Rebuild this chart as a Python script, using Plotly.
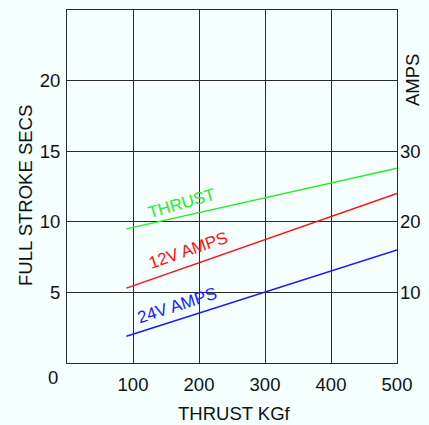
import plotly.graph_objects as go

thrust_x = [90, 500]
thrust_secs = [9.5, 13.8]
amps12_x = [90, 500]
amps12 = [10.6, 24.0]
amps24_x = [90, 500]
amps24 = [3.8, 16.0]

x_ticks = [100, 200, 300, 400, 500]
y_ticks = [5, 10, 15, 20]
y2_ticks = [10, 20, 30]

bg = "#f5fffe"
grid = "#2a2a2a"
font = "Liberation Sans, Arial, sans-serif"
fs = 18.5

L, R, T, B = 67, 397, 10, 363

fig = go.Figure()
fig.add_trace(go.Scatter(x=thrust_x, y=thrust_secs, mode="lines",
                         line=dict(color="#22ee22", width=1.5), yaxis="y"))
fig.add_trace(go.Scatter(x=amps12_x, y=amps12, mode="lines",
                         line=dict(color="#ff1010", width=1.5), yaxis="y2"))
fig.add_trace(go.Scatter(x=amps24_x, y=amps24, mode="lines",
                         line=dict(color="#1a1aff", width=1.5), yaxis="y2"))

fig.update_layout(
    width=429, height=425,
    margin=dict(l=L, r=429 - R, t=T, b=425 - B),
    paper_bgcolor=bg, plot_bgcolor=bg,
    showlegend=False,
    font=dict(family=font, size=fs, color="#111"),
    xaxis=dict(range=[0, 500], tickvals=x_ticks, showgrid=True, gridcolor=grid,
               gridwidth=1, showline=True, linecolor=grid, linewidth=1, mirror=True,
               zeroline=False, ticks="", ticklabelstandoff=5, automargin=False,
               tickfont=dict(size=fs)),
    yaxis=dict(range=[0, 25], tickvals=y_ticks, showgrid=True, gridcolor=grid,
               gridwidth=1, showline=True, linecolor=grid, linewidth=1, mirror=True,
               zeroline=False, ticks="", ticklabelstandoff=2, automargin=False,
               tickfont=dict(size=fs)),
    yaxis2=dict(range=[0, 50], tickvals=y2_ticks, overlaying="y", side="right",
                showgrid=False, zeroline=False, showline=False, ticks="",
                ticklabelstandoff=2, automargin=False, tickfont=dict(size=fs)),
)

ann = [
    dict(text="THRUST", x=174, y=11.3, xref="x", yref="y", textangle=-16,
         font=dict(color="#22ee22", size=17)),
    dict(text="12V AMPS", x=183, y=8.0, xref="x", yref="y", textangle=-19,
         font=dict(color="#ff1010", size=17)),
    dict(text="24V AMPS", x=167, y=4.1, xref="x", yref="y", textangle=-18,
         font=dict(color="#1a1aff", size=17)),
    dict(text="0", x=53, y=377),
    dict(text="FULL STROKE SECS", textangle=-90, x=25, y=196),
    dict(text="AMPS", textangle=-90, x=413, y=80),
    dict(text="THRUST KGf", x=235, y=413),
]
for a in ann:
    if a.get("xref") == "x":
        fig.add_annotation(showarrow=False, **a)
    else:
        fig.add_annotation(text=a["text"], x=(a["x"] - L) / (R - L),
                           y=(B - a["y"]) / (B - T),
                           xref="paper", yref="paper", showarrow=False,
                           textangle=a.get("textangle", 0),
                           xanchor="center", yanchor="middle",
                           font=dict(size=fs, color="#111"))

fig.write_html("out.html", config={"displayModeBar": False}, post_script=(
    "document.body.style.margin='0';document.body.style.padding='0';"
    "document.body.style.overflow='hidden';"
    "document.body.style.background='" + bg + "';"))
